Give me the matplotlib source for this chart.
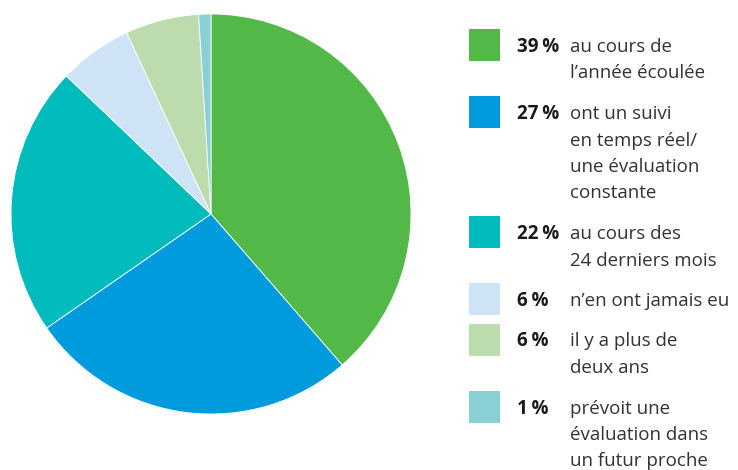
import matplotlib.pyplot as plt
from matplotlib.patches import Rectangle

plt.rcParams['font.family'] = ['Open Sans', 'DejaVu Sans']

shares = [39, 27, 22, 6, 6, 1]
pct_labels = ['39\u2009%', '27\u2009%', '22\u2009%', '6\u2009%', '6\u2009%', '1\u2009%']
descriptions = [
    "au cours de\nl\u2019ann\u00e9e \u00e9coul\u00e9e",
    "ont un suivi\nen temps r\u00e9el/\nune \u00e9valuation\nconstante",
    "au cours des\n24 derniers mois",
    "n\u2019en ont jamais eu",
    "il y a plus de\ndeux ans",
    "pr\u00e9voit une\n\u00e9valuation dans\nun futur proche",
]
colors = ['#52b848', '#009bdc', '#00bbbb', '#cfe3f6', '#bddcad', '#88d0d3']

W, H = 738, 470
fig = plt.figure(figsize=(W / 100, H / 100), dpi=100)

# pie: centre (211, 214) px, radius 200 px
ax = fig.add_axes([11 / W, (H - 414) / H, 400 / W, 400 / H])
ax.pie(shares, colors=colors, startangle=90, counterclock=False,
       wedgeprops=dict(edgecolor='white', linewidth=0.6))
ax.set_xlim(-1, 1)
ax.set_ylim(-1, 1)
ax.set_aspect('equal')

# legend drawn in pixel space
lg = fig.add_axes([0, 0, 1, 1])
lg.set_xlim(0, W)
lg.set_ylim(H, 0)
lg.axis('off')

line_h = 26.5
gap = 14
top = 29
for pct, desc, c in zip(pct_labels, descriptions, colors):
    lg.add_patch(Rectangle((469, top), 31, 32, facecolor=c, edgecolor='none'))
    lg.text(517, top + 23, pct, fontsize=13.5, fontweight='bold', color='#1a1a1a',
            va='baseline', ha='left')
    lines = desc.split('\n')
    for i, ln in enumerate(lines):
        lg.text(570, top + 23 + i * line_h, ln, fontsize=13.5, color='#333333',
                va='baseline', ha='left')
    top += len(lines) * line_h + gap

fig.savefig('out.png', dpi=100)
